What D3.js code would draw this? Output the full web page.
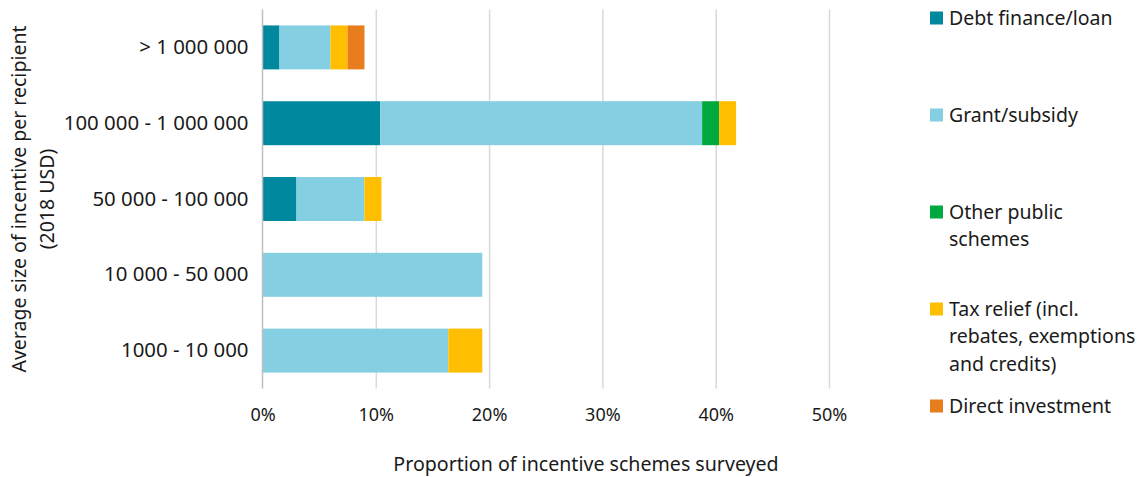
<!DOCTYPE html>
<html>
<head>
<meta charset="utf-8">
<script src="https://cdn.jsdelivr.net/npm/d3@7"></script>
<style>
  body { margin: 0; background: #fff; }
  text { font-family: "Noto Sans", sans-serif; fill: #1a1a1a; }
  .grid line { stroke: #d9d9d9; stroke-width: 1.5; }
  .grid .domain { display: none; }
</style>
</head>
<body>
<div id="wrapper"></div>
<script>
// data (percent of schemes surveyed)
const categories = ['> 1 000 000', '100 000 - 1 000 000', '50 000 - 100 000', '10 000 - 50 000', '1000 - 10 000'];
const seriesNames = ['Debt finance/loan', 'Grant/subsidy', 'Other public schemes', 'Tax relief (incl. rebates, exemptions and credits)', 'Direct investment'];
const legendLines = [['Debt finance/loan'], ['Grant/subsidy'], ['Other public', 'schemes'], ['Tax relief (incl.', 'rebates, exemptions', 'and credits)'], ['Direct investment']];
const colors = ['#00889e', '#84cfe2', '#00a940', '#ffbe00', '#e87d1e'];
const debt = [1.5, 10.4, 3.0, 0, 0];
const grant = [4.5, 28.4, 6.0, 19.4, 16.4];
const otherPublic = [0, 1.5, 0, 0, 0];
const taxRelief = [1.5, 1.5, 1.5, 0, 3.0];
const directInv = [1.5, 0, 0, 0, 0];
const xTicks = [0, 10, 20, 30, 40, 50];

const dimensions = {
  width: 1142,
  height: 477,
  margin: { top: 9.5, right: 313, bottom: 88.5, left: 262.5 }
};
dimensions.boundW = dimensions.width - dimensions.margin.left - dimensions.margin.right;
dimensions.boundH = dimensions.height - dimensions.margin.top - dimensions.margin.bottom;

const rows = categories.map((c, i) => ({
  cat: c,
  vals: [debt[i], grant[i], otherPublic[i], taxRelief[i], directInv[i]]
}));
const stacked = d3.stack()
  .keys(d3.range(seriesNames.length))
  .value((d, k) => d.vals[k])(rows);

const svg = d3.select('#wrapper').append('svg')
  .attr('width', dimensions.width)
  .attr('height', dimensions.height);

const bounds = svg.append('g')
  .attr('transform', `translate(${dimensions.margin.left},${dimensions.margin.top})`);

const xScale = d3.scaleLinear()
  .domain([0, 50])
  .range([0, dimensions.boundW]);

const yScale = d3.scaleBand()
  .domain(categories)
  .range([0, dimensions.boundH])
  .paddingInner(0.42)
  .paddingOuter(0.21);

// gridlines
const gridGen = d3.axisBottom(xScale)
  .tickValues(xTicks.slice(1))
  .tickSize(-dimensions.boundH)
  .tickFormat('');
bounds.append('g')
  .attr('class', 'grid')
  .attr('transform', `translate(0,${dimensions.boundH})`)
  .call(gridGen);

// bars
bounds.selectAll('g.series')
  .data(stacked)
  .join('g')
  .attr('class', 'series')
  .attr('fill', (d, i) => colors[i])
  .selectAll('rect')
  .data(d => d.filter(s => s[1] - s[0] > 0))
  .join('rect')
  .attr('x', d => xScale(d[0]))
  .attr('width', d => xScale(d[1]) - xScale(d[0]))
  .attr('y', d => yScale(d.data.cat))
  .attr('height', yScale.bandwidth());

// left axis line
bounds.append('line')
  .attr('x1', 0).attr('x2', 0)
  .attr('y1', 0).attr('y2', dimensions.boundH)
  .attr('stroke', '#bfbfbf')
  .attr('stroke-width', 1.5);

// x tick labels
const xAxisGen = d3.axisBottom(xScale)
  .tickValues(xTicks)
  .tickSize(0)
  .tickPadding(20)
  .tickFormat(d => d + '%');
const xAxis = bounds.append('g')
  .attr('transform', `translate(0,${dimensions.boundH})`)
  .call(xAxisGen);
xAxis.select('.domain').remove();
xAxis.selectAll('text')
  .style('font-family', '"Noto Sans", sans-serif')
  .style('font-size', '18px')
  .attr('fill', '#1a1a1a');

// y category labels
const yAxisGen = d3.axisLeft(yScale).tickSize(0).tickPadding(14);
const yAxis = bounds.append('g').call(yAxisGen);
yAxis.select('.domain').remove();
yAxis.selectAll('text')
  .style('font-family', '"Noto Sans", sans-serif')
  .style('font-size', '20.4px')
  .attr('fill', '#1a1a1a');

// axis titles
svg.append('text')
  .attr('x', 586)
  .attr('y', 471)
  .attr('text-anchor', 'middle')
  .style('font-size', '19.6px')
  .text('Proportion of incentive schemes surveyed');

const yTitle = svg.append('text')
  .attr('transform', `translate(0,${dimensions.margin.top + dimensions.boundH / 2}) rotate(-90)`)
  .attr('text-anchor', 'middle')
  .style('font-size', '19.5px');
yTitle.append('tspan').attr('x', 0).attr('y', 26).text('Average size of incentive per recipient');
yTitle.append('tspan').attr('x', 0).attr('y', 54).text('(2018 USD)');

// legend
const legendY = [18, 115, 212, 309, 406];
const legend = svg.append('g').attr('transform', 'translate(930,0)');
legendLines.forEach((lines, i) => {
  const g = legend.append('g').attr('transform', `translate(0,${legendY[i]})`);
  g.append('rect')
    .attr('x', 0).attr('y', -6.5)
    .attr('width', 13).attr('height', 13)
    .attr('fill', colors[i]);
  const t = g.append('text')
    .attr('x', 19)
    .attr('y', 0)
    .style('font-size', '19.5px');
  lines.forEach((l, j) => {
    t.append('tspan').attr('x', 19).attr('dy', j === 0 ? '0.35em' : 27.5).text(l);
  });
});
</script>
</body>
</html>
